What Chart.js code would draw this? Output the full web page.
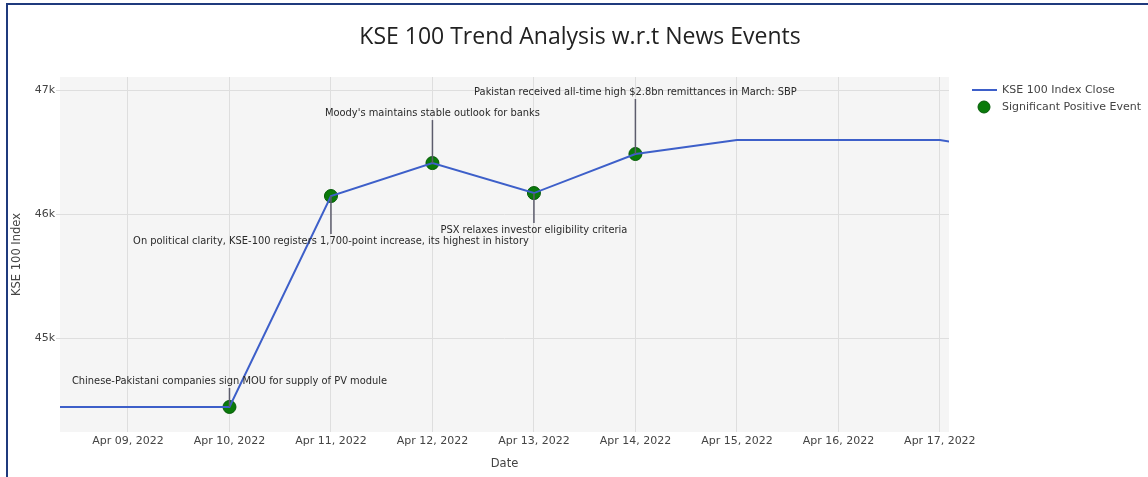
<!DOCTYPE html>
<html>
<head>
<meta charset="utf-8">
<title>KSE 100 Trend Analysis</title>
<script src="https://cdn.jsdelivr.net/npm/chart.js@4.4.1/dist/chart.umd.min.js"></script>
<style>
  html, body { margin: 0; padding: 0; background: #fff; }
  #wrap { position: relative; width: 1148px; height: 477px; overflow: hidden; }
  #frame { position: absolute; left: 6px; top: 3px; width: 1200px; height: 500px;
           border-left: 2px solid #1f3a7d; border-top: 2px solid #1f3a7d; pointer-events: none; }
</style>
</head>
<body>
<div id="wrap">
  <canvas id="myChart" width="1148" height="477"></canvas>
  <div id="frame"></div>
</div>
<script>
// KSE 100 daily close (weekends carried forward)
const dates = ['2022-04-08', '2022-04-09', '2022-04-10', '2022-04-11', '2022-04-12', '2022-04-13',
               '2022-04-14', '2022-04-15', '2022-04-16', '2022-04-17', '2022-04-18'];
const closeValues = [44444, 44444, 44444, 46145, 46411, 46169, 46484, 46597, 46597, 46597, 46460];

// news events
const eventDates = ['2022-04-10', '2022-04-11', '2022-04-12', '2022-04-13', '2022-04-14'];
const eventValues = [44444, 46145, 46411, 46169, 46484];
const eventTexts = [
    'Chinese-Pakistani companies sign MOU for supply of PV module',
    'On political clarity, KSE-100 registers 1,700-point increase, its highest in history',
    "Moody's maintains stable outlook for banks",
    'PSX relaxes investor eligibility criteria',
    'Pakistan received all-time high $2.8bn remittances in March: SBP'
];

const xTickDates = ['2022-04-09', '2022-04-10', '2022-04-11', '2022-04-12', '2022-04-13',
                    '2022-04-14', '2022-04-15', '2022-04-16', '2022-04-17'];
const yTicks = [45000, 46000, 47000];

const chartTitle = 'KSE 100 Trend Analysis w.r.t News Events';

const MONTHS = ['Jan', 'Feb', 'Mar', 'Apr', 'May', 'Jun', 'Jul', 'Aug', 'Sep', 'Oct', 'Nov', 'Dec'];

function toDay(s) {
    return Date.parse(s) / 86400000;
}

function fmtDay(d) {
    const dt = new Date(Math.round(d) * 86400000);
    const dd = String(dt.getUTCDate()).padStart(2, '0');
    return MONTHS[dt.getUTCMonth()] + ' ' + dd + ', ' + dt.getUTCFullYear();
}

const FONT = 'DejaVu Sans';
Chart.defaults.font.family = FONT;
Chart.defaults.font.size = 11;
Chart.defaults.color = '#444';

// grey plot background + title (title centred on the whole figure, not the plot)
const plotBg = {
    id: 'plotBg',
    beforeDraw(chart) {
        const {ctx, chartArea: a} = chart;
        ctx.save();
        ctx.fillStyle = '#f5f5f5';
        ctx.fillRect(a.left, a.top, a.right - a.left, a.bottom - a.top);
        ctx.fillStyle = '#222';
        ctx.font = '23px "Open Sans"';
        ctx.textAlign = 'center';
        ctx.textBaseline = 'middle';
        ctx.fillText(chartTitle, 580, 37);
        ctx.restore();
    }
};

// text + line annotations for the events
const newsNotes = {
    id: 'newsNotes',
    afterDatasetsDraw(chart, args, opts) {
        const {ctx, scales: {x, y}} = chart;
        ctx.save();
        ctx.font = opts.fontSize + 'px ' + FONT;
        ctx.textAlign = 'center';
        ctx.textBaseline = 'middle';
        eventDates.forEach((d, i) => {
            const px = x.getPixelForValue(toDay(d));
            const py = y.getPixelForValue(eventValues[i]);
            const dy = opts.offsets[i];
            const ty = py + dy;
            const end = ty - Math.sign(dy) * 7;
            ctx.strokeStyle = '#5c5c6c';
            ctx.lineWidth = 1.5;
            ctx.beginPath();
            ctx.moveTo(px, py);
            ctx.lineTo(px, end);
            ctx.stroke();
            ctx.fillStyle = '#2a2a2a';
            ctx.fillText(eventTexts[i], px, ty);
        });
        ctx.restore();
    }
};

// legend on the right, plotly style
const sideLegend = {
    id: 'sideLegend',
    afterDraw(chart) {
        const {ctx, chartArea: a} = chart;
        const x0 = a.right + 23;
        const y0 = a.top + 13;
        ctx.save();
        ctx.strokeStyle = '#3d5fc9';
        ctx.lineWidth = 2;
        ctx.beginPath();
        ctx.moveTo(x0, y0);
        ctx.lineTo(x0 + 25, y0);
        ctx.stroke();
        ctx.fillStyle = '#0a7a0a';
        ctx.strokeStyle = '#055a08';
        ctx.lineWidth = 1;
        ctx.beginPath();
        ctx.arc(x0 + 12, y0 + 17, 6, 0, Math.PI * 2);
        ctx.fill();
        ctx.stroke();
        ctx.fillStyle = '#444';
        ctx.font = '11px ' + FONT;
        ctx.textAlign = 'left';
        ctx.textBaseline = 'middle';
        ctx.fillText(chart.data.datasets[0].label, x0 + 30, y0);
        ctx.fillText(chart.data.datasets[1].label, x0 + 30, y0 + 17);
        ctx.restore();
    }
};

const ctx = document.getElementById('myChart').getContext('2d');

const myChart = new Chart(ctx, {
    type: 'line',
    data: {
        datasets: [{
            label: 'KSE 100 Index Close',
            data: dates.map((d, i) => ({x: toDay(d), y: closeValues[i]})),
            borderColor: '#3d5fc9',
            borderWidth: 2,
            pointRadius: 0,
            tension: 0
        }, {
            label: 'Significant Positive Event',
            data: eventDates.map((d, i) => ({x: toDay(d), y: eventValues[i]})),
            showLine: false,
            pointRadius: 6.5,
            pointBackgroundColor: '#0a7a0a',
            pointBorderColor: '#055a08',
            pointBorderWidth: 1
        }]
    },
    options: {
        responsive: false,
        animation: false,
        layout: {
            padding: {left: 0, right: 199, top: 77, bottom: 0}
        },
        plugins: {
            legend: {display: false},
            tooltip: {enabled: false},
            title: {display: false},
            newsNotes: {
                fontSize: 9.9,
                offsets: [-26, 45, -50, 37, -62]
            }
        },
        scales: {
            x: {
                type: 'linear',
                min: toDay('2022-04-09') - 0.67,
                max: toDay('2022-04-17') + 0.09,
                afterBuildTicks(scale) {
                    scale.ticks = xTickDates.map(d => ({value: toDay(d)}));
                },
                afterFit(scale) {
                    scale.height = 45;
                },
                ticks: {
                    callback: v => fmtDay(v),
                    maxRotation: 0,
                    autoSkip: false,
                    padding: 3,
                    color: '#444'
                },
                grid: {color: '#dedede', lineWidth: 1, drawTicks: false},
                border: {display: false},
                title: {
                    display: true,
                    text: 'Date',
                    color: '#444',
                    font: {size: 11.5},
                    padding: {top: 0, bottom: 6}
                }
            },
            y: {
                min: 44242,
                max: 47105,
                afterBuildTicks(scale) {
                    scale.ticks = yTicks.map(v => ({value: v}));
                },
                afterFit(scale) {
                    scale.width = 60;
                },
                ticks: {
                    callback: v => (v / 1000) + 'k',
                    padding: 1,
                    color: '#444'
                },
                grid: {color: '#dedede', lineWidth: 1, tickLength: 4},
                border: {display: false},
                title: {
                    display: true,
                    text: 'KSE 100 Index',
                    color: '#444',
                    font: {size: 11.5},
                    padding: {top: 10, bottom: 0}
                }
            }
        }
    },
    plugins: [plotBg, newsNotes, sideLegend]
});
</script>
</body>
</html>
